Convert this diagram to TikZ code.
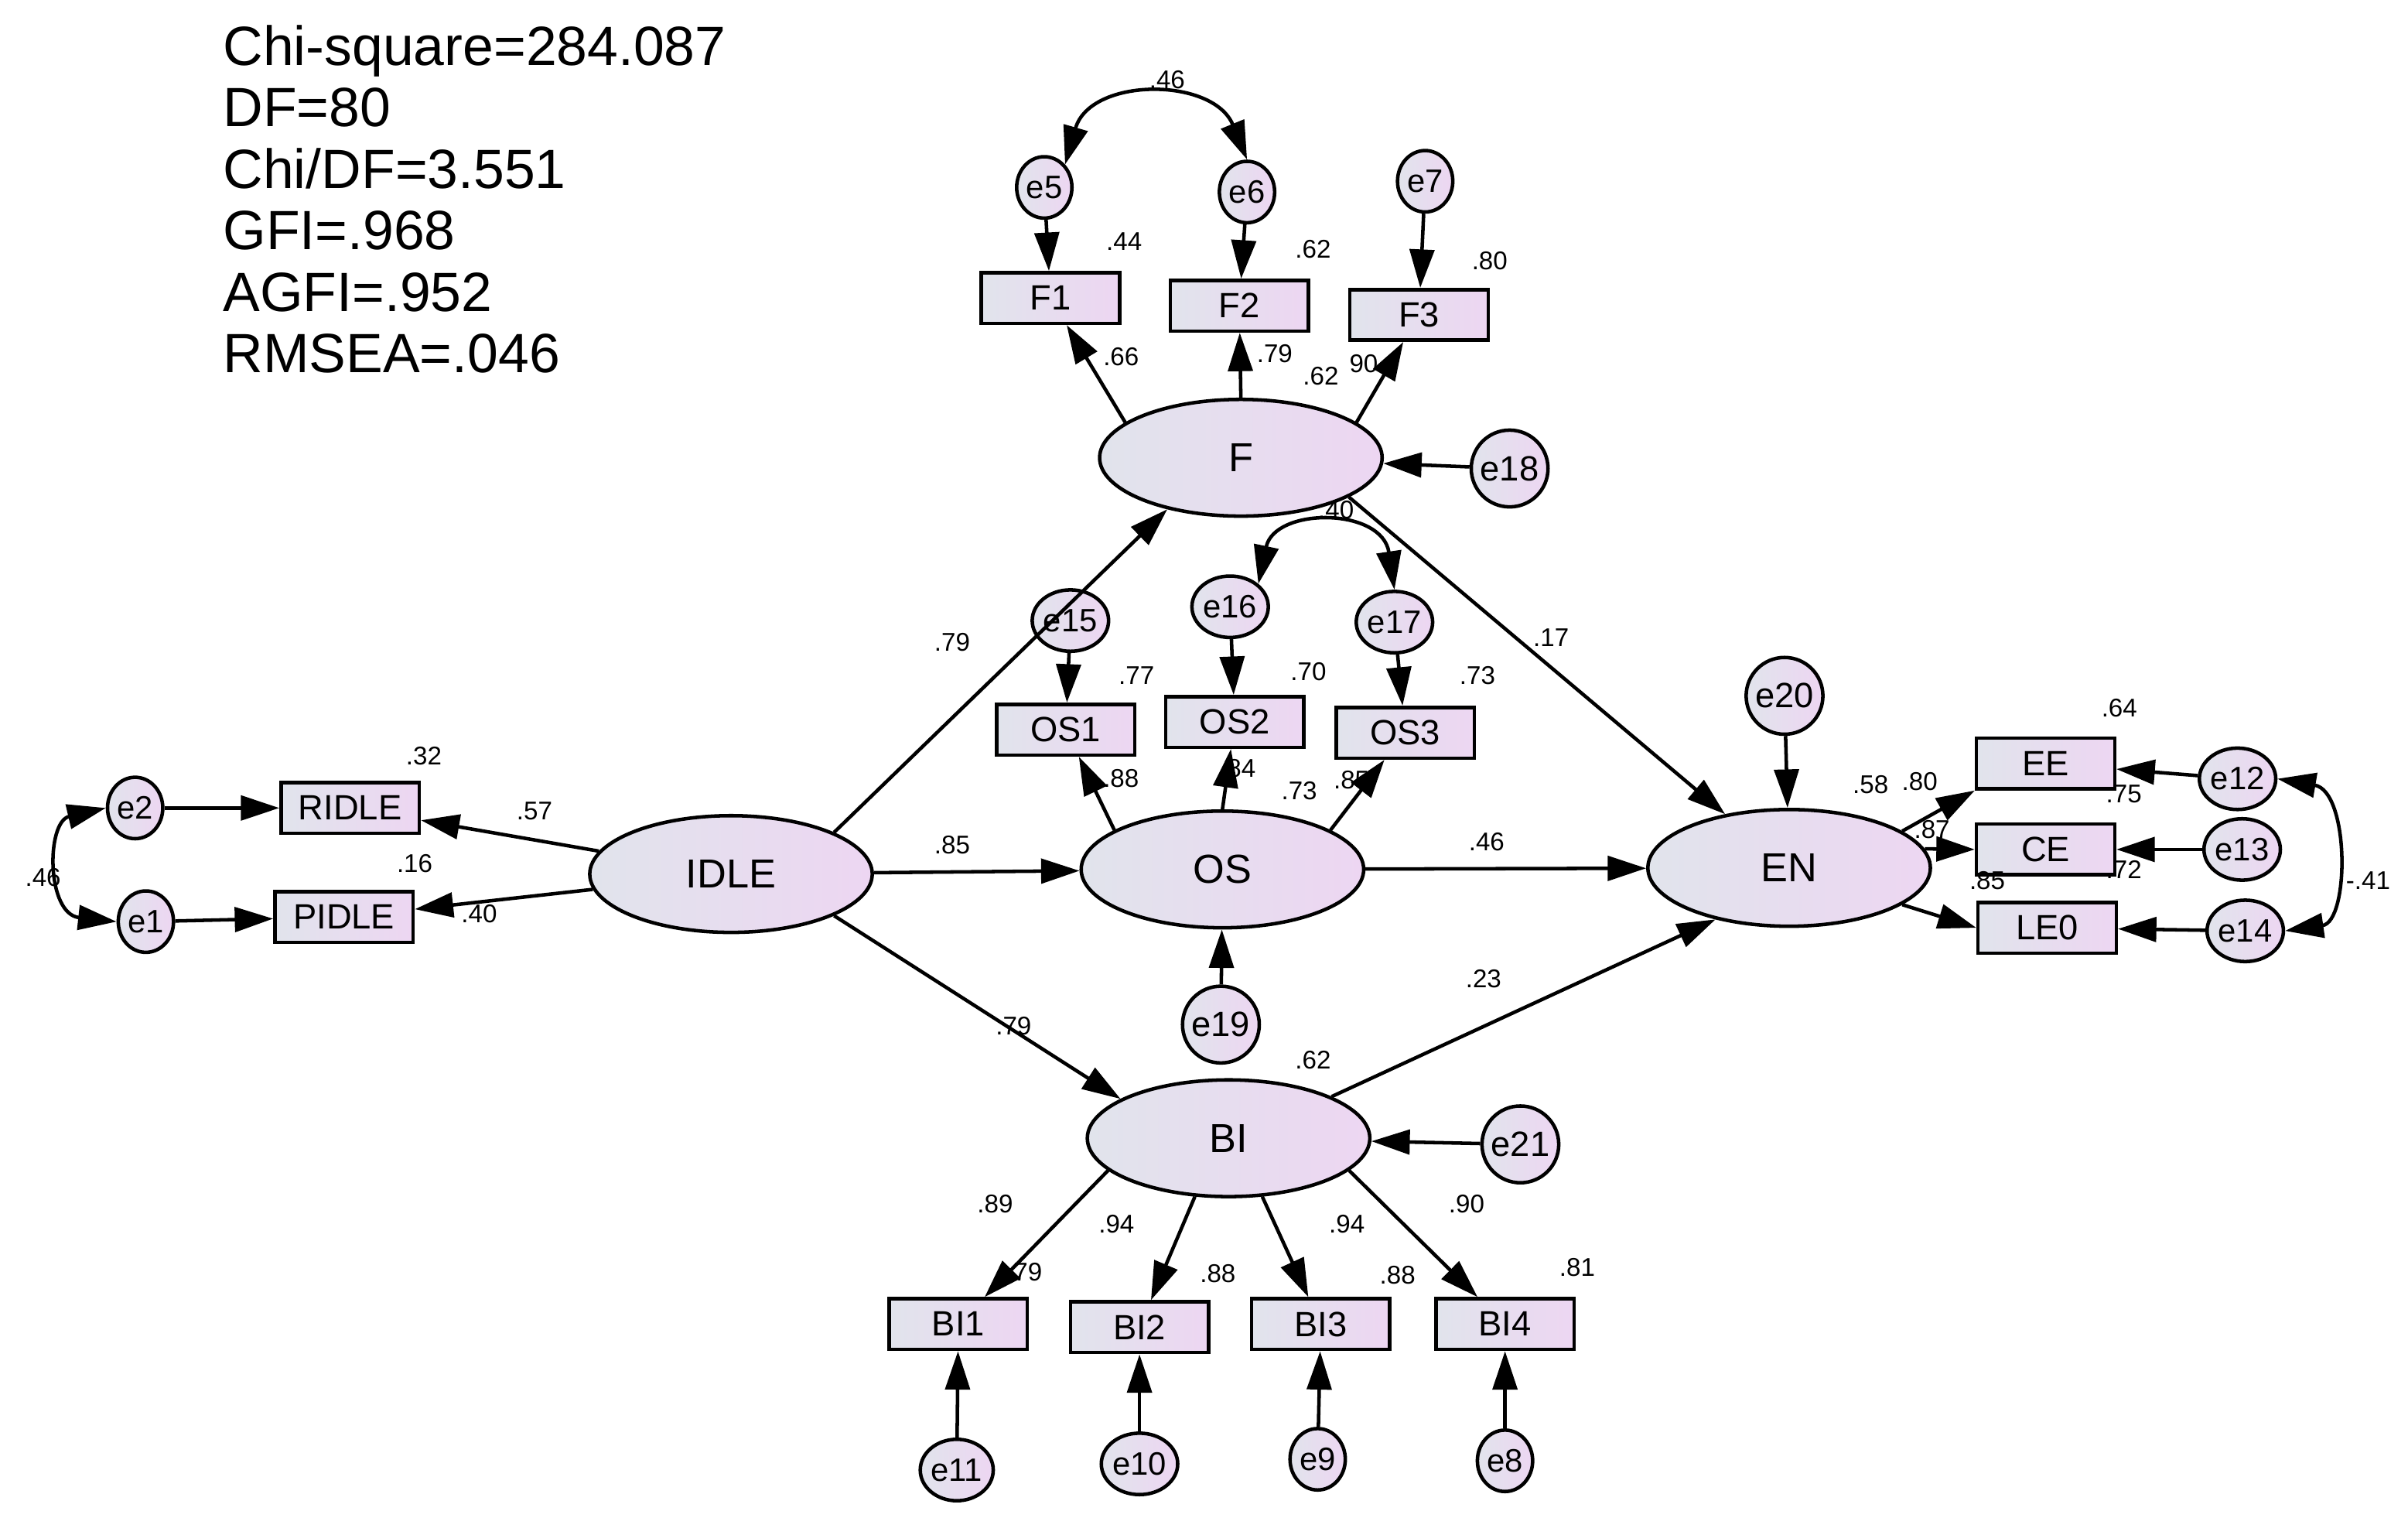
\documentclass[tikz,border=0pt]{standalone}
\usepackage{fontspec}
\setmainfont{Liberation Sans}
\usetikzlibrary{shapes.geometric,arrows.meta}
\definecolor{cl}{HTML}{E1E4EC}
\definecolor{cr}{HTML}{EDD6F2}
\begin{document}
\begin{tikzpicture}[x=0.02cm,y=-0.02cm,
 fillg/.style={left color=cl, right color=cr},
 obs/.style={draw,line width=1.3pt,fillg,minimum width=1.8cm,minimum height=0.66cm,inner sep=0pt,font=\fontsize{13}{13}\selectfont},
 lat/.style={draw,line width=1.3pt,ellipse,fillg,minimum width=3.68cm,minimum height=1.52cm,font=\fontsize{15}{15}\selectfont},
 es/.style={draw,line width=1.3pt,ellipse,fillg,minimum width=0.72cm,minimum height=0.8cm,inner sep=0pt,font=\fontsize{12}{12}\selectfont},
 eb/.style={draw,line width=1.3pt,circle,fillg,minimum size=1.0cm,inner sep=0pt,font=\fontsize{13}{13}\selectfont},
 lab/.style={font=\fontsize{9.5}{9.5}\selectfont,inner sep=0pt},
 ar/.style={line width=1.3pt,-{Triangle[length=0.5cm,width=0.32cm]}},
 cov/.style={line width=1.3pt,{Triangle[length=0.5cm,width=0.32cm]}-{Triangle[length=0.5cm,width=0.32cm]}}]
\useasboundingbox (0,0) rectangle (1568,988);
% stats
\node[anchor=north west,align=left,font=\fontsize{20.5}{22.8}\selectfont,inner sep=0pt] (stats) at (145,16)
 {Chi-square=284.087\\DF=80\\Chi/DF=3.551\\GFI=.968\\AGFI=.952\\RMSEA=.046};
% latents
\node[lat] (IDLE) at (476,569) {IDLE};
\node[lat] (F) at (808,298) {F};
\node[lat] (OS) at (796,566) {OS};
\node[lat] (BI) at (800,741) {BI};
\node[lat] (EN) at (1165,565) {EN};
% observed
\node[obs] (RIDLE) at (228,526) {RIDLE};
\node[obs] (PIDLE) at (224,597) {PIDLE};
\node[obs] (F1) at (684,194) {F1};
\node[obs] (F2) at (807,199) {F2};
\node[obs] (F3) at (924,205) {F3};
\node[obs] (OS1) at (694,475) {OS1};
\node[obs] (OS2) at (804,470) {OS2};
\node[obs] (OS3) at (915,477) {OS3};
\node[obs] (BI1) at (624,862) {BI1};
\node[obs] (BI2) at (742,864) {BI2};
\node[obs] (BI3) at (860,862) {BI3};
\node[obs] (BI4) at (980,862) {BI4};
\node[obs] (EE) at (1332,497) {EE};
\node[obs] (CE) at (1332,553) {CE};
\node[obs] (LE0) at (1333,604) {LE0};
% errors
\node[es] (e2) at (88,526) {e2};
\node[es] (e1) at (95,600) {e1};
\node[es] (e5) at (680,122) {e5};
\node[es] (e6) at (812,125) {e6};
\node[es] (e7) at (928,118) {e7};
\node[es] (e15) at (697,404) {e15};
\node[es] (e16) at (801,395) {e16};
\node[es] (e17) at (908,405) {e17};
\node[es] (e11) at (623,957) {e11};
\node[es] (e10) at (742,953) {e10};
\node[es] (e9) at (858,950) {e9};
\node[es] (e8) at (980,951) {e8};
\node[es] (e12) at (1457,507) {e12};
\node[es] (e13) at (1460,553) {e13};
\node[es] (e14) at (1462,606) {e14};
\node[eb] (e18) at (983,305) {e18};
\node[eb] (e19) at (795,667) {e19};
\node[eb] (e21) at (990,745) {e21};
\node[eb] (e20) at (1162,453) {e20};
% paths
\draw[ar] (IDLE) -- (RIDLE);
\draw[ar] (IDLE) -- (PIDLE);
\draw[ar] (e2) -- (RIDLE);
\draw[ar] (e1) -- (PIDLE);
\draw[ar] (IDLE.22) -- (F.215);
\draw[ar] (IDLE) -- (OS);
\draw[ar] (IDLE.338) -- (BI.160);
\draw[ar] (F.163) -- (F1);
\draw[ar] (F.north) -- (F2);
\draw[ar] (F.17) -- (F3);
\draw[ar] (e5) -- (F1);
\draw[ar] (e6) -- (F2);
\draw[ar] (e7) -- (F3);
\draw[ar] (e18) -- (F);
\draw[ar] (OS.160) -- (OS1);
\draw[ar] (OS.north) -- (OS2);
\draw[ar] (OS.20) -- (OS3);
\draw[ar] (e15) -- (OS1);
\draw[ar] (e16) -- (OS2);
\draw[ar] (e17) -- (OS3);
\draw[ar] (e19) -- (OS);
\draw[ar] (F.340) -- (EN.140);
\draw[ar] (OS) -- (EN);
\draw[ar] (BI.22) -- (EN.215);
\draw[ar] (e20) -- (EN);
\draw[ar] (e21) -- (BI);
\draw[ar] (BI.195) -- (BI1);
\draw[ar] (BI.240) -- (BI2);
\draw[ar] (BI.300) -- (BI3);
\draw[ar] (BI.345) -- (BI4);
\draw[ar] (e11) -- (BI1);
\draw[ar] (e10) -- (BI2);
\draw[ar] (e9) -- (BI3);
\draw[ar] (e8) -- (BI4);
\draw[ar] (EN.18) -- (EE.south west);
\draw[ar] (EN.8) -- (CE.west);
\draw[ar] (EN.342) -- (LE0.west);
\draw[ar] (e12) -- (EE);
\draw[ar] (e13) -- (CE);
\draw[ar] (e14) -- (LE0);
% covariances
\draw[cov] (e5.north east) .. controls (710,50) and (790,50) .. (e6.north);
\draw[cov] (e16.north east) .. controls (830,330) and (900,330) .. (e17.north);
\draw[cov] (e2.west) .. controls (30,535) and (30,595) .. (e1.west);
\draw[cov] (e12.east) .. controls (1530,515) and (1530,600) .. (e14.east);
% labels
\node[lab] (l1) at (276,492) {.32};
\node[lab] (l2) at (348,528) {.57};
\node[lab] (l3) at (270,562) {.16};
\node[lab] (l4) at (312,595) {.40};
\node[lab] (l5) at (28,571) {.46};
\node[lab] (l6) at (620,418) {.79};
\node[lab] (l7) at (620,550) {.85};
\node[lab] (l8) at (660,668) {.79};
\node[lab] (l9) at (730,232) {.66};
\node[lab] (l10) at (830,230) {.79};
\node[lab] (l11) at (860,245) {.62};
\node[lab] (l12) at (888,237) {90};
\node[lab] (l13) at (732,157) {.44};
\node[lab] (l14) at (855,162) {.62};
\node[lab] (l15) at (970,170) {.80};
\node[lab] (l16) at (760,52) {.46};
\node[lab] (l17) at (740,440) {.77};
\node[lab] (l18) at (852,437) {.70};
\node[lab] (l19) at (962,440) {.73};
\node[lab] (l20) at (730,507) {.88};
\node[lab] (l21) at (806,500) {.84};
\node[lab] (l22) at (846,515) {.73};
\node[lab] (l23) at (880,508) {.85};
\node[lab] (l24) at (870,332) {.40};
\node[lab] (l25) at (1010,415) {.17};
\node[lab] (l26) at (968,548) {.46};
\node[lab] (l27) at (966,637) {.23};
\node[lab] (l28) at (1218,511) {.58};
\node[lab] (l29) at (1250,509) {.80};
\node[lab] (l30) at (1258,540) {.87};
\node[lab] (l31) at (1294,573) {.85};
\node[lab] (l32) at (1383,566) {.72};
\node[lab] (l33) at (1383,517) {.75};
\node[lab] (l34) at (1380,461) {.64};
\node[lab] (l35) at (1542,573) {-.41};
\node[lab] (l36) at (855,690) {.62};
\node[lab] (l37) at (648,784) {.89};
\node[lab] (l38) at (727,797) {.94};
\node[lab] (l39) at (877,797) {.94};
\node[lab] (l40) at (955,784) {.90};
\node[lab] (l41) at (667,828) {.79};
\node[lab] (l42) at (793,829) {.88};
\node[lab] (l43) at (910,830) {.88};
\node[lab] (l44) at (1027,825) {.81};
\end{tikzpicture}
\end{document}
